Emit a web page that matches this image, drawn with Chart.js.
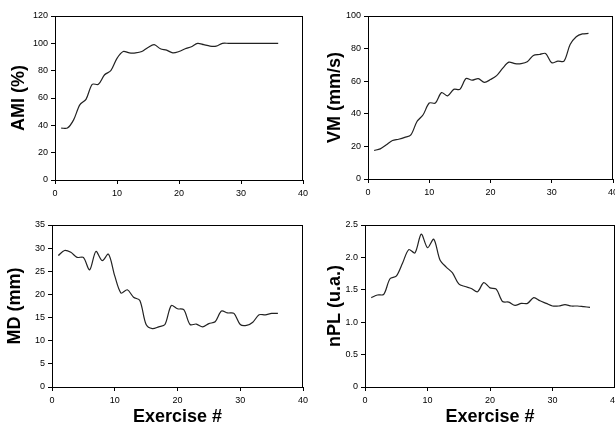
<!DOCTYPE html>
<html>
<head>
<meta charset="utf-8">
<script src="https://cdn.jsdelivr.net/npm/chart.js@4"></script>
<style>
  html, body { margin: 0; padding: 0; background: #fff; overflow: hidden; width: 615px; height: 427px; }
  .panel { position: absolute; }
</style>
</head>
<body>
<div class="panel" style="left:0;top:0;width:315px;height:205px"><canvas id="cAMI"></canvas></div>
<div class="panel" style="left:300px;top:0;width:325px;height:205px"><canvas id="cVM"></canvas></div>
<div class="panel" style="left:0;top:205px;width:315px;height:222px"><canvas id="cMD"></canvas></div>
<div class="panel" style="left:300px;top:205px;width:325px;height:222px"><canvas id="cNPL"></canvas></div>
<script>
  // exercise number (x) for every series
  const exercise = [1, 2, 3, 4, 5, 6, 7, 8, 9, 10, 11, 12, 13, 14, 15, 16, 17, 18,
    19, 20, 21, 22, 23, 24, 25, 26, 27, 28, 29, 30, 31, 32, 33, 34, 35, 36];

  const ami = [38, 38, 44, 55, 59, 70, 70, 77, 80, 89, 94, 93, 93, 94, 97, 99, 96, 95,
    93, 94, 96, 97.5, 100, 99, 98, 98, 100, 100, 100, 100, 100, 100, 100, 100, 100, 100];

  const vm = [17.5, 18.5, 21, 23.6, 24.4, 25.5, 27, 35.3, 39.4, 46.6, 46.6, 53, 51, 55, 55, 61.6, 60.6, 61.6,
    59.3, 61, 63.4, 68, 71.7, 70.8, 70.8, 71.9, 75.8, 76.4, 77, 71.3, 72.3, 72.3, 82.5, 87.3, 89, 89.3];

  const md = [28.4, 29.5, 29.1, 28, 28, 25.3, 29.3, 27.3, 28.7, 24, 20.3, 21, 19.4, 18.7, 13.5, 12.6, 13, 13.5,
    17.6, 16.9, 16.7, 13.5, 13.6, 13, 13.7, 14.1, 16.4, 16, 15.9, 13.5, 13.3, 14, 15.6, 15.6, 15.9, 15.9];

  const npl = [1.38, 1.42, 1.43, 1.67, 1.71, 1.91, 2.12, 2.07, 2.36, 2.15, 2.28, 1.96, 1.85, 1.76, 1.59, 1.55, 1.52, 1.47,
    1.61, 1.53, 1.51, 1.32, 1.31, 1.26, 1.29, 1.29, 1.38, 1.33, 1.29, 1.25, 1.25, 1.27, 1.25, 1.25, 1.24, 1.23];

  const xTicks = [0, 10, 20, 30, 40];

  const FONT = "Liberation Sans, Arial, sans-serif";

  // closed box round the plot area (Excel style)
  const frame = {
    id: "frame",
    afterDraw(chart) {
      const a = chart.chartArea, c = chart.ctx;
      c.save();
      c.strokeStyle = "#000"; c.lineWidth = 1;
      c.strokeRect(Math.round(a.left) + 0.5, Math.round(a.top) + 0.5,
        Math.round(a.right - a.left) - 1, Math.round(a.bottom - a.top));
      c.restore();
    }
  };

  function panel(id, ys, o) {
    const pts = exercise.map((x, i) => ({ x, y: ys[i] }));
    return new Chart(document.getElementById(id), {
      type: "line",
      data: { datasets: [{ data: pts, borderColor: "#222", borderWidth: 1.2, pointRadius: 0, tension: 0.3 }] },
      plugins: [frame],
      options: {
        responsive: true, maintainAspectRatio: false, animation: false,
        layout: { padding: { top: o.top, right: o.right, left: 0, bottom: 0 } },
        plugins: { legend: { display: false }, tooltip: { enabled: false } },
        scales: {
          x: {
            type: "linear", min: 0, max: 40,
            afterBuildTicks: s => { s.ticks = xTicks.map(v => ({ value: v })); },
            afterFit: s => { s.height = o.xh; },
            grid: { drawOnChartArea: false, tickLength: 4, color: "#000" },
            border: { color: "#000", width: 1 },
            ticks: { color: "#000", font: { family: FONT, size: 9 }, padding: 4, maxRotation: 0 },
            title: o.xTitle ? { display: true, text: o.xTitle, color: "#000",
              font: { family: FONT, size: 18, weight: "bold", lineHeight: 1 }, padding: { top: 0, bottom: 1 } } : { display: false }
          },
          y: {
            min: 0, max: o.ymax,
            afterBuildTicks: s => { s.ticks = o.yTicks.map(v => ({ value: v })); },
            afterFit: s => { s.width = o.yw; },
            grid: { drawOnChartArea: false, tickLength: 4, color: "#000" },
            border: { color: "#000", width: 1 },
            ticks: { color: "#000", font: { family: FONT, size: 9 }, padding: 3 },
            title: { display: true, text: o.yTitle, color: "#000",
              font: { family: FONT, size: 18, weight: "bold", lineHeight: 1 }, padding: { top: o.tpad, bottom: 0 } }
          }
        }
      }
    });
  }

  panel("cAMI", ami, { top: 16, right: 12, xh: 25, yw: 55, tpad: 10, ymax: 120,
    yTicks: [0, 20, 40, 60, 80, 100, 120], yTitle: "AMI (%)" });
  panel("cVM", vm, { top: 16, right: 12, xh: 26, yw: 68, tpad: 26, ymax: 100,
    yTicks: [0, 20, 40, 60, 80, 100], yTitle: "VM (mm/s)" });
  panel("cMD", md, { top: 20, right: 12, xh: 40, yw: 52, tpad: 6, ymax: 35,
    yTicks: [0, 5, 10, 15, 20, 25, 30, 35], yTitle: "MD (mm)", xTitle: "Exercise #" });
  panel("cNPL", npl, { top: 20, right: 10, xh: 40, yw: 65, tpad: 26, ymax: 2.5,
    yTicks: [0, 0.5, 1, 1.5, 2, 2.5], yTitle: "nPL (u.a.)", xTitle: "Exercise #" });
</script>
</body>
</html>
